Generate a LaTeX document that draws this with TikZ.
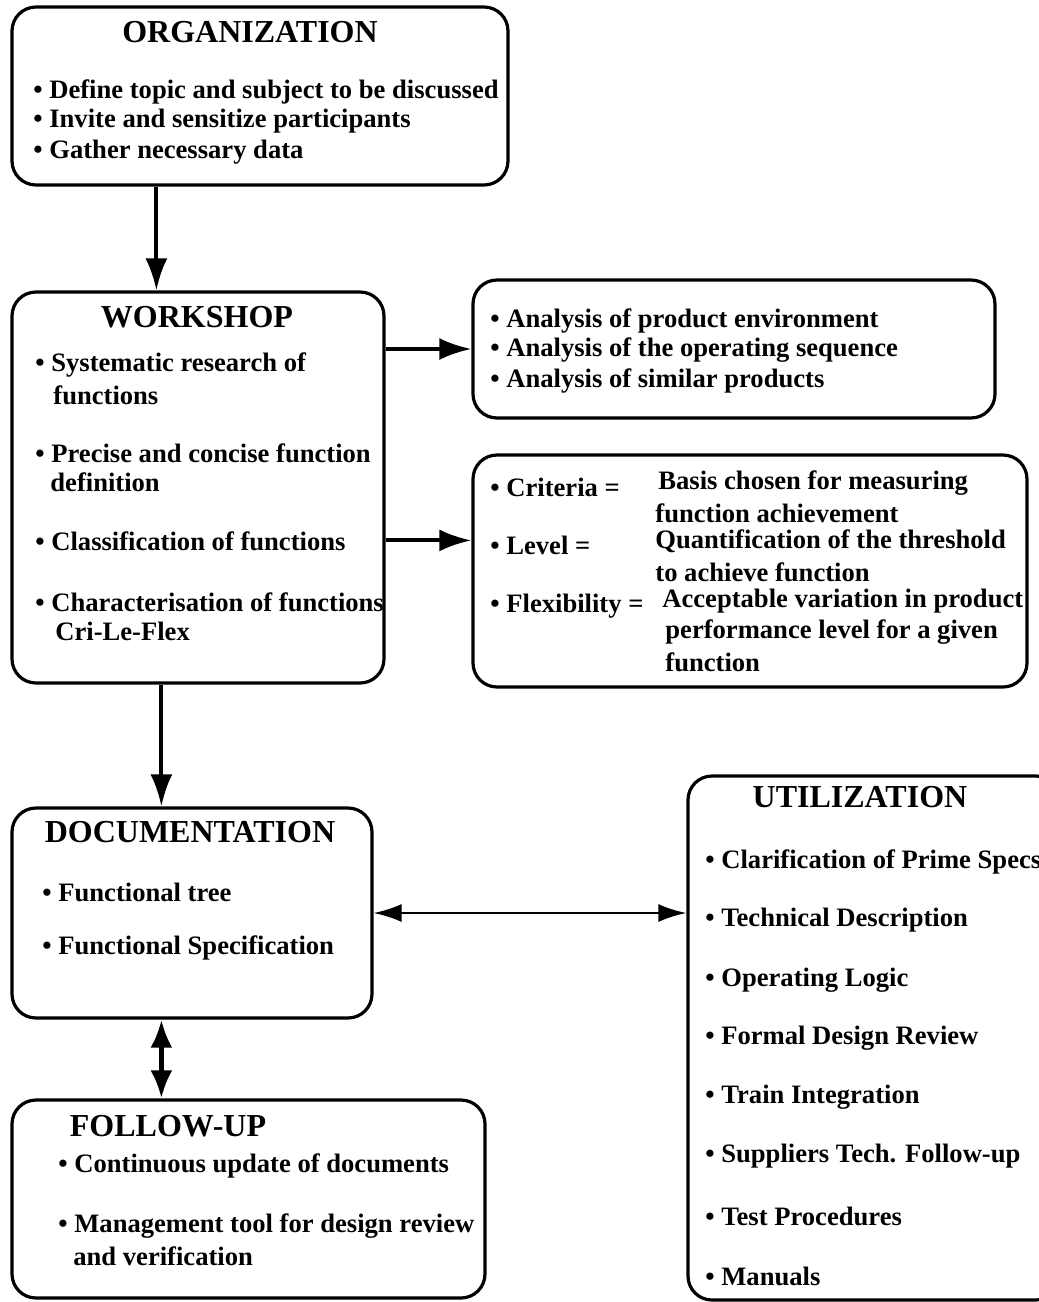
\documentclass[tikz,border=0pt]{standalone}
\usepackage{fontspec}
\setmainfont{Liberation Serif}
\usetikzlibrary{arrows.meta,calc}

\begin{document}
\begin{tikzpicture}[x=0.5pt, y=-0.5pt,
    box/.style={draw, rounded corners=12pt, line width=1.6pt, inner sep=0pt},
    title/.style={inner sep=0pt, font=\fontsize{16}{19}\selectfont\bfseries},
    txt/.style={anchor=west, inner sep=0pt, font=\fontsize{13.3}{16}\selectfont\bfseries},
    arr/.style={-{Latex[length=16pt, width=11pt]}, line width=2pt},
    dblarr/.style={{Latex[length=14pt, width=9pt]}-{Latex[length=14pt, width=9pt]}, line width=1.2pt},
    dblthick/.style={{Latex[length=14pt, width=11pt]}-{Latex[length=14pt, width=11pt]}, line width=2.4pt}]
    \useasboundingbox (0,0) rectangle (1039,1302);

    % boxes
    \node[box, minimum width=248pt, minimum height=89pt] (org) at (260,96) {};
    \node[box, minimum width=186pt, minimum height=195.5pt] (ws) at (198,487.5) {};
    \node[box, minimum width=261pt, minimum height=69pt] (ana) at (734,349) {};
    \node[box, minimum width=277pt, minimum height=116pt] (crit) at (750,571) {};
    \node[box, minimum width=180pt, minimum height=105pt] (doc) at (192,913) {};
    \node[box, minimum width=236.5pt, minimum height=99pt] (fu) at (248.5,1199) {};
    \node[box, minimum width=186pt, minimum height=262pt] (util) at (874,1038) {};

    % organization
    \node[title] (orgT) at (250,32) {ORGANIZATION};
    \node[txt] (o1) at (33,92) {\textbullet\ Define topic and subject to be discussed};
    \node[txt] (o2) at (33,121) {\textbullet\ Invite and sensitize participants};
    \node[txt] (o3) at (33,152) {\textbullet\ Gather necessary data};

    % workshop
    \node[title] (wsT) at (197,317) {WORKSHOP};
    \node[txt] (w1) at (35,365) {\textbullet\ Systematic research of};
    \node[txt] (w1b) at (53,395) {functions};
    \node[txt] (w2) at (35,453) {\textbullet\ Precise and concise function};
    \node[txt] (w2b) at (50,482) {definition};
    \node[txt] (w3) at (35,541) {\textbullet\ Classification of functions};
    \node[txt] (w4) at (35,602) {\textbullet\ Characterisation of functions};
    \node[txt] (w4b) at (55,631) {Cri-Le-Flex};

    % analysis
    \node[txt] (a1) at (490,321) {\textbullet\ Analysis of product environment};
    \node[txt] (a2) at (490,350) {\textbullet\ Analysis of the operating sequence};
    \node[txt] (a3) at (490,381) {\textbullet\ Analysis of similar products};

    % criteria, level, flexibility
    \node[txt] (c1) at (490,487) {\textbullet\ Criteria =};
    \node[txt] (c1a) at (658,483) {Basis chosen for measuring};
    \node[txt] (c1b) at (655,513) {function achievement};
    \node[txt] (c2) at (490,545) {\textbullet\ Level =};
    \node[txt] (c2a) at (655,541) {Quantification of the threshold};
    \node[txt] (c2b) at (655,572) {to achieve function};
    \node[txt] (c3) at (490,606) {\textbullet\ Flexibility =};
    \node[txt] (c3a) at (662,601) {Acceptable variation in product};
    \node[txt] (c3b) at (665,632) {performance level for a given};
    \node[txt] (c3c) at (665,662) {function};

    % documentation
    \node[title] (docT) at (190,832) {DOCUMENTATION};
    \node[txt] (d1) at (42,892) {\textbullet\ Functional tree};
    \node[txt] (d2) at (42,948) {\textbullet\ Functional Specification};

    % follow-up
    \node[title] (fuT) at (168,1126) {FOLLOW-UP};
    \node[txt] (f1) at (58,1166) {\textbullet\ Continuous update of documents};
    \node[txt] (f2) at (58,1226) {\textbullet\ Management tool for design review};
    \node[txt] (f2b) at (73,1256) {and verification};

    % utilization
    \node[title] (utilT) at (860,797) {UTILIZATION};
    \node[txt] (u1) at (705,862) {\textbullet\ Clarification of Prime Specs};
    \node[txt] (u2) at (705,920) {\textbullet\ Technical Description};
    \node[txt] (u3) at (705,980) {\textbullet\ Operating Logic};
    \node[txt] (u4) at (705,1038) {\textbullet\ Formal Design Review};
    \node[txt] (u5) at (705,1097) {\textbullet\ Train Integration};
    \node[txt] (u6) at (705,1156) {\textbullet\ Suppliers Tech. Follow-up};
    \node[txt] (u7) at (705,1216) {\textbullet\ Test Procedures};
    \node[txt] (u8) at (705,1276) {\textbullet\ Manuals};

    % connectors
    \draw[arr] ($(org.south west)+(146,0)$) -- ($(ws.north west)+(146,0)$);
    \draw[arr] (ana.west -| ws.east) -- (ana.west);
    \coordinate (wc) at ($(ws.north east)+(0,250)$);
    \draw[arr] (wc) -- (wc -| crit.west);
    \draw[arr] ($(ws.south west)+(151,0)$) -- ($(doc.north west)+(151,0)$);
    \draw[dblarr] (doc.east) -- (doc.east -| util.west);
    \draw[dblthick] ($(doc.south west)+(151,0)$) -- ($(fu.north west)+(151,0)$);
\end{tikzpicture}
\end{document}
